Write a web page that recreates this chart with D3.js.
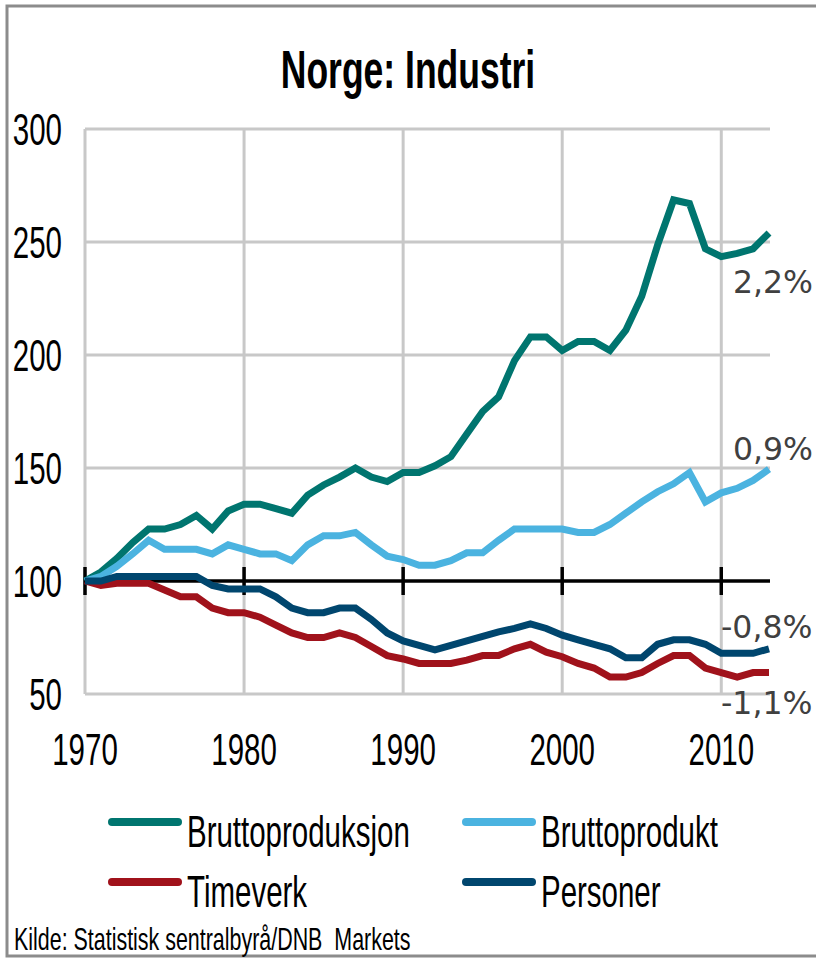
<!DOCTYPE html>
<html lang="no">
<head>
<meta charset="utf-8">
<title>Norge: Industri</title>
<script src="https://d3js.org/d3.v7.min.js"></script>
<style>
  body { margin: 0; background: #fff; }
  svg { display: block; }
  .cond { font-family: "Liberation Sans", Arial, sans-serif; fill: #000; }
  .pct { font-family: "DejaVu Sans", Verdana, sans-serif; fill: #404040; font-size: 31.5px; }
</style>
</head>
<body>
<div id="chart"></div>
<script>
// data, index 1970 = 100
var years = [1970, 1971, 1972, 1973, 1974, 1975, 1976, 1977, 1978, 1979,
             1980, 1981, 1982, 1983, 1984, 1985, 1986, 1987, 1988, 1989,
             1990, 1991, 1992, 1993, 1994, 1995, 1996, 1997, 1998, 1999,
             2000, 2001, 2002, 2003, 2004, 2005, 2006, 2007, 2008, 2009,
             2010, 2011, 2012, 2013];
var bruttoproduksjon = [100, 104, 110, 117, 123, 123, 125, 129, 123, 131,
                        134, 134, 132, 130, 138, 142.5, 146, 150, 146, 144,
                        148, 148, 151, 155, 165, 175, 181.5, 197.5, 208, 208,
                        202, 206, 206, 202, 211, 226, 248.7, 268.6, 267, 247,
                        243.5, 245, 247, 254];
var bruttoprodukt = [100, 102, 106.5, 112, 118, 114, 114, 114, 112, 116,
                     114, 112, 112, 109, 116, 120, 120, 121.5, 116, 111,
                     109.5, 107, 107, 109, 112.5, 112.5, 118, 123, 123, 123,
                     123, 121.5, 121.5, 125, 130, 135, 139.5, 143, 148, 135,
                     139, 141, 144.5, 149.5];
var timeverk = [100, 98, 99, 99, 99, 96, 93, 93, 88, 86,
                86, 84, 80.5, 77, 75, 75, 77, 75, 71, 67,
                65.5, 63.5, 63.5, 63.5, 65, 67, 67, 70, 72, 68.5,
                66.5, 63.5, 61.5, 57.5, 57.5, 59.5, 63.5, 67, 67, 61.5,
                59.5, 57.5, 59.5, 59.5];
var personer = [100, 100, 102, 102, 102, 102, 102, 102, 98, 96.5,
                96.5, 96.5, 93, 88, 86, 86, 88, 88, 83, 77,
                73.5, 71.5, 69.5, 71.5, 73.5, 75.5, 77.5, 79, 81, 79,
                76, 74, 72, 70, 66, 66, 72, 74, 74, 72,
                68, 68, 68, 70];
var seriesNames = ["Bruttoproduksjon", "Bruttoprodukt", "Timeverk", "Personer"];
var seriesColors = ["#00756f", "#4bb3e0", "#a0121b", "#00466e"];
var growthLabels = ["2,2%", "0,9%", "-1,1%", "-0,8%"];
var yTicks = [50, 100, 150, 200, 250, 300];
var xTicks = [1970, 1980, 1990, 2000, 2010];

(function() {
  var width = 816, height = 960;
  var sx = 0.67; // the original text is squeezed sideways

  var svg = d3.select("#chart").append("svg")
      .attr("width", width)
      .attr("height", height);

  var x = d3.scaleLinear().domain([1970, 2013]).range([85, 769]);
  var y = d3.scaleLinear().domain([50, 300]).range([694, 129]);

  // squeezed text helper
  function ctext(px, py, str, size, anchor, weight) {
    var g = svg.append("g").attr("transform", "translate(" + px + "," + py + ") scale(" + sx + ",1)");
    return g.append("text")
        .attr("class", "cond")
        .attr("font-size", size)
        .attr("font-weight", weight || "normal")
        .attr("text-anchor", anchor)
        .style("white-space", "pre")
        .text(str);
  }

  // frame
  svg.append("path")
      .attr("d", "M" + (width + 5) + ",6H7V956H" + (width + 5))
      .attr("fill", "none")
      .attr("stroke", "#8c8c8c")
      .attr("stroke-width", 3);

  ctext(width / 2, 88, "Norge: Industri", 53, "middle", "bold");

  // grid
  var grid = svg.append("g").attr("stroke", "#c8c8c8").attr("stroke-width", 3);
  grid.selectAll(".h").data(yTicks.filter(function(d) { return d !== 100; }))
    .enter().append("line")
      .attr("x1", x(1970)).attr("x2", 770)
      .attr("y1", function(d) { return y(d); })
      .attr("y2", function(d) { return y(d); });
  grid.selectAll(".v").data(xTicks)
    .enter().append("line")
      .attr("x1", function(d) { return x(d); })
      .attr("x2", function(d) { return x(d); })
      .attr("y1", y(300)).attr("y2", y(50));

  // axis at 100
  var axis = svg.append("g").attr("stroke", "#000").attr("stroke-width", 3.5);
  axis.append("line")
      .attr("x1", x(1970)).attr("x2", 770)
      .attr("y1", y(100)).attr("y2", y(100));
  axis.selectAll(".t").data(xTicks)
    .enter().append("line")
      .attr("x1", function(d) { return x(d); })
      .attr("x2", function(d) { return x(d); })
      .attr("y1", y(100) - 14).attr("y2", y(100) + 14);

  yTicks.forEach(function(t) {
    ctext(62, y(t) + 16, String(t), 44, "end");
  });
  xTicks.forEach(function(t) {
    ctext(x(t), 765, String(t), 44, "middle");
  });

  // lines
  var seriesData = [bruttoproduksjon, bruttoprodukt, timeverk, personer];
  var line = d3.line()
      .x(function(d, i) { return x(years[i]); })
      .y(function(d) { return y(d); });
  svg.append("g").selectAll("path")
      .data(seriesData)
    .enter().append("path")
      .attr("d", line)
      .attr("fill", "none")
      .attr("stroke", function(d, i) { return seriesColors[i]; })
      .attr("stroke-width", 7)
      .attr("stroke-linejoin", "miter");

  // growth labels at the right end
  var pctPos = [[733, 293], [733, 460], [721, 714], [721, 638]];
  growthLabels.forEach(function(s, i) {
    svg.append("text")
        .attr("class", "pct")
        .attr("x", pctPos[i][0])
        .attr("y", pctPos[i][1])
        .text(s);
  });

  // legend
  var legPos = [[108, 822], [462, 822], [108, 882], [462, 882]];
  seriesNames.forEach(function(name, i) {
    svg.append("line")
        .attr("x1", legPos[i][0] + 4).attr("x2", legPos[i][0] + 70)
        .attr("y1", legPos[i][1]).attr("y2", legPos[i][1])
        .attr("stroke", seriesColors[i])
        .attr("stroke-width", 8)
        .attr("stroke-linecap", "round");
    ctext(legPos[i][0] + 79, legPos[i][1] + 25, name, 44, "start");
  });

  ctext(14, 950, "Kilde: Statistisk sentralbyrå/DNB  Markets", 32, "start");
})();
</script>
</body>
</html>
